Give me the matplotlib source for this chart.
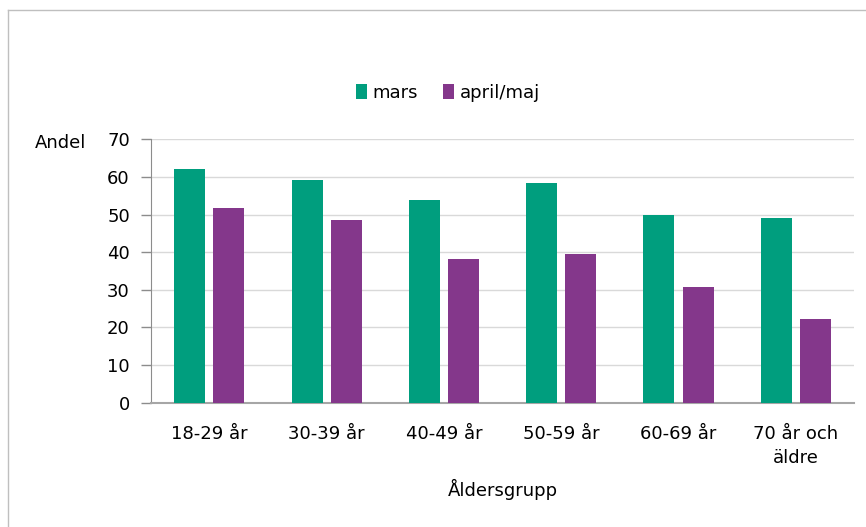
import numpy as np
import matplotlib.pyplot as plt
from matplotlib.lines import Line2D

plt.rcParams['font.family'] = ['DejaVu Sans']

# data
groups = ['18-29 år', '30-39 år', '40-49 år', '50-59 år', '60-69 år', '70 år och\näldre']
mars = [62.0, 59.2, 53.9, 58.3, 49.9, 49.0]
april_maj = [51.8, 48.5, 38.2, 39.4, 30.7, 22.2]
series_names = ['mars', 'april/maj']
colors = ['#009E7E', '#84378B']

fig = plt.figure(figsize=(8.66, 5.27), dpi=100)
ax = fig.add_axes([0.174, 0.2359, 0.8127, 0.4998])

x = np.arange(len(groups))
w = 0.265
off = 0.167
ax.bar(x - off, mars, w, color=colors[0], label=series_names[0], zorder=3)
ax.bar(x + off, april_maj, w, color=colors[1], label=series_names[1], zorder=3)

ax.set_xlim(-0.5, len(groups) - 0.5)
ax.set_ylim(0, 70)
ax.set_yticks(np.arange(0, 71, 10))
ax.set_xticks(x)
ax.set_xticklabels(groups, fontsize=13, color='#000000', linespacing=1.4)
ax.tick_params(axis='x', length=0, pad=16)
ax.tick_params(axis='y', length=7, width=1, color='#8c8c8c', pad=8, labelsize=13)

ax.grid(axis='y', color='#d9d9d9', linewidth=1, zorder=0)
for s in ['top', 'right']:
    ax.spines[s].set_visible(False)
ax.spines['left'].set_color('#8c8c8c')
ax.spines['bottom'].set_color('#a6a6a6')
ax.spines['bottom'].set_linewidth(1.5)

ax.set_xlabel('Åldersgrupp', fontsize=13, labelpad=9)
fig.text(86 / 866, 1 - 143 / 527, 'Andel', fontsize=13, ha='right', va='center')

fig.legend(loc='center', bbox_to_anchor=(448 / 866, 1 - 93 / 527), ncol=2, frameon=False,
           fontsize=13, handlelength=0.6, handleheight=0.9, handletextpad=0.3,
           columnspacing=1.4)

# chart border
fig.add_artist(Line2D([8 / 866, 8 / 866], [0, 1 - 10 / 527], transform=fig.transFigure,
                      color='#bfbfbf', linewidth=1))
fig.add_artist(Line2D([8 / 866, 1], [1 - 10 / 527, 1 - 10 / 527], transform=fig.transFigure,
                      color='#bfbfbf', linewidth=1))

fig.savefig('out.png', dpi=100)
